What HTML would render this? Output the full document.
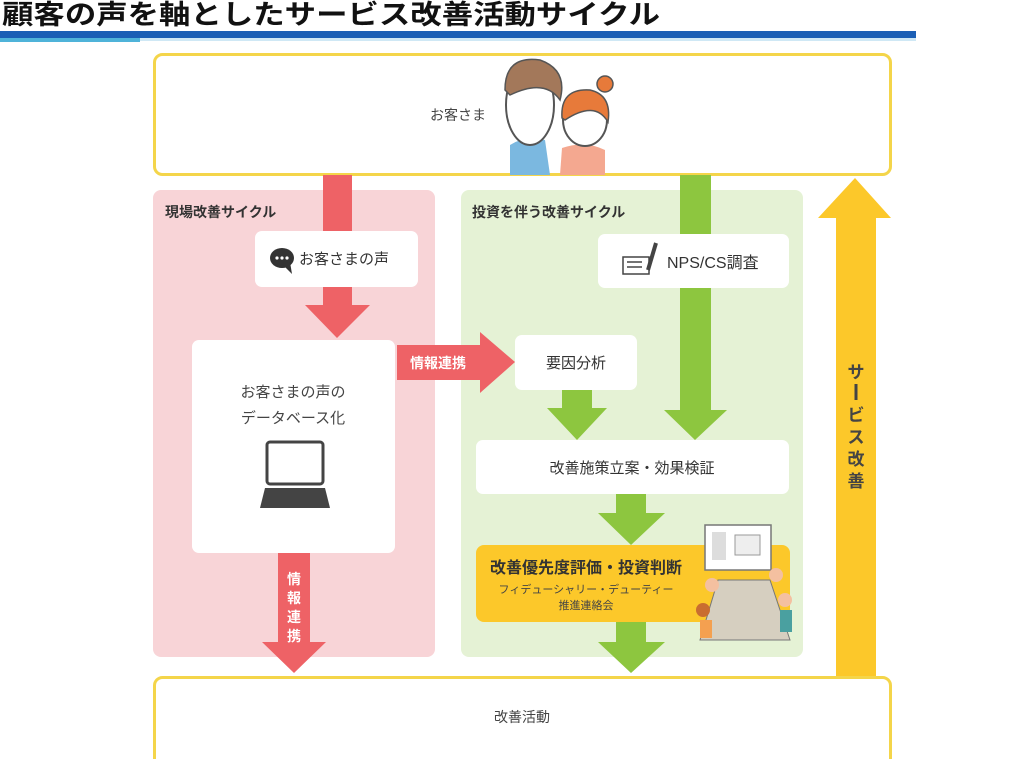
<!DOCTYPE html>
<html><head><meta charset="utf-8"><style>
html,body{margin:0;padding:0;background:#fff;}
svg{display:block;font-family:"Liberation Sans","Noto Sans CJK JP",sans-serif;}
</style></head><body>
<svg width="1024" height="759" viewBox="0 0 1024 759" xmlns="http://www.w3.org/2000/svg">
<text x="2" y="24" font-size="27" font-weight="bold" fill="#111" textLength="658" lengthAdjust="spacingAndGlyphs">顧客の声を軸としたサービス改善活動サイクル</text>
<rect x="0" y="31" width="916" height="7" fill="#1b5fb5"/>
<rect x="0" y="38" width="140" height="4" fill="#4fb3d9"/>
<rect x="140" y="38" width="776" height="3" fill="#cfe8f5"/>

<!-- top box -->
<rect x="154.5" y="54.5" width="736" height="120" rx="8" fill="#fff" stroke="#f4d54a" stroke-width="3"/>
<text x="458" y="120" font-size="14" fill="#444" text-anchor="middle">お客さま</text>
<!-- people -->
<g>
<path d="M510 175 L510 145 Q525 135 545 140 L550 175 Z" fill="#7bb8e0"/>
<path d="M560 175 L562 148 Q585 140 605 150 L605 175 Z" fill="#f4a890"/>
<ellipse cx="530" cy="105" rx="24" ry="40" fill="#fff" stroke="#555" stroke-width="2"/>
<path d="M505 90 Q505 55 540 60 Q568 70 560 100 Q545 78 510 95 Z" fill="#a3785a" stroke="#555" stroke-width="1.5"/>
<ellipse cx="585" cy="120" rx="22" ry="26" fill="#fff" stroke="#555" stroke-width="2"/>
<path d="M562 118 Q560 88 590 90 Q612 95 608 122 Q595 100 565 120 Z" fill="#e77a3a" stroke="#555" stroke-width="1.5"/>
<circle cx="605" cy="84" r="8" fill="#e77a3a" stroke="#555" stroke-width="1.5"/>
</g>

<!-- panels -->
<rect x="153" y="190" width="282" height="467" rx="8" fill="#f8d4d7"/>
<rect x="461" y="190" width="342" height="467" rx="8" fill="#e5f2d5"/>
<text x="165" y="217" font-size="14" font-weight="bold" fill="#333">現場改善サイクル</text>
<text x="472" y="217" font-size="14" font-weight="bold" fill="#333">投資を伴う改善サイクル</text>

<!-- red arrows -->
<rect x="323" y="175" width="29" height="135" fill="#ee6266"/>
<polygon points="305,305 370,305 337,338" fill="#ee6266"/>
<rect x="278" y="553" width="32" height="92" fill="#ee6266"/>
<polygon points="262,642 326,642 294,673" fill="#ee6266"/>
<text font-size="14" font-weight="bold" fill="#fff" text-anchor="middle"><tspan x="294" y="584">情</tspan><tspan x="294" y="603">報</tspan><tspan x="294" y="622">連</tspan><tspan x="294" y="641">携</tspan></text>
<rect x="397" y="345" width="85" height="35" fill="#ee6266"/>
<polygon points="480,332 480,393 515,362" fill="#ee6266"/>
<text x="438" y="368" font-size="14" font-weight="bold" fill="#fff" text-anchor="middle">情報連携</text>

<!-- green arrows -->
<rect x="680" y="175" width="31" height="240" fill="#8dc63f"/>
<polygon points="664,410 727,410 695,440" fill="#8dc63f"/>
<rect x="562" y="385" width="30" height="25" fill="#8dc63f"/>
<polygon points="547,408 607,408 577,440" fill="#8dc63f"/>
<rect x="616" y="490" width="30" height="25" fill="#8dc63f"/>
<polygon points="598,513 665,513 631,545" fill="#8dc63f"/>
<rect x="616" y="620" width="30" height="24" fill="#8dc63f"/>
<polygon points="598,642 665,642 631,673" fill="#8dc63f"/>

<!-- white boxes -->
<rect x="255" y="231" width="163" height="56" rx="7" fill="#fff"/>
<ellipse cx="282" cy="258" rx="12" ry="10" fill="#333"/>
<polygon points="282,264 292,274 290,262" fill="#333"/>
<circle cx="277" cy="258" r="1.6" fill="#fff"/><circle cx="282" cy="258" r="1.6" fill="#fff"/><circle cx="287" cy="258" r="1.6" fill="#fff"/>
<text x="299" y="264" font-size="15" fill="#333">お客さまの声</text>

<rect x="192" y="340" width="203" height="213" rx="7" fill="#fff"/>
<text x="293" y="397" font-size="15" fill="#444" text-anchor="middle">お客さまの声の</text>
<text x="293" y="423" font-size="15" fill="#444" text-anchor="middle">データベース化</text>
<rect x="267" y="442" width="56" height="42" rx="3" fill="#fff" stroke="#444" stroke-width="3"/>
<polygon points="265,488 325,488 330,508 260,508" fill="#444"/>

<rect x="515" y="335" width="122" height="55" rx="7" fill="#fff"/>
<text x="576" y="368" font-size="15" fill="#333" text-anchor="middle">要因分析</text>

<rect x="598" y="234" width="191" height="54" rx="7" fill="#fff"/>
<rect x="623" y="257" width="26" height="17" fill="#fff" stroke="#444" stroke-width="1.5"/>
<line x1="627" y1="262" x2="642" y2="262" stroke="#444" stroke-width="1.5"/>
<line x1="627" y1="267" x2="642" y2="267" stroke="#444" stroke-width="1.5"/>
<line x1="648" y1="270" x2="656" y2="243" stroke="#444" stroke-width="4"/>
<text x="667" y="268" font-size="16" fill="#333">NPS/CS調査</text>

<rect x="476" y="440" width="313" height="54" rx="7" fill="#fff"/>
<text x="632" y="473" font-size="15" fill="#333" text-anchor="middle">改善施策立案・効果検証</text>

<rect x="476" y="545" width="314" height="77" rx="8" fill="#fcc82a"/>
<text x="586" y="573" font-size="16" font-weight="bold" fill="#333" text-anchor="middle">改善優先度評価・投資判断</text>
<text x="586" y="593" font-size="11" fill="#444" text-anchor="middle">フィデューシャリー・デューティー</text>
<text x="586" y="609" font-size="11" fill="#444" text-anchor="middle">推進連絡会</text>
<!-- meeting illustration -->
<rect x="705" y="525" width="66" height="45" fill="#fff" stroke="#777" stroke-width="1.5"/>
<rect x="712" y="532" width="14" height="28" fill="#ddd"/>
<rect x="735" y="535" width="25" height="20" fill="#eee" stroke="#999"/>
<polygon points="718,580 770,580 790,640 700,640" fill="#d6cfc0" stroke="#777"/>
<circle cx="712" cy="585" r="7" fill="#f4c0a0"/><circle cx="776" cy="575" r="7" fill="#f4c0a0"/>
<circle cx="703" cy="610" r="7" fill="#c96d30"/><circle cx="785" cy="600" r="7" fill="#f4c0a0"/>
<rect x="700" y="620" width="12" height="18" fill="#f4a050"/><rect x="780" y="610" width="12" height="22" fill="#4aa0a0"/>

<!-- yellow up arrow -->
<rect x="836" y="215" width="40" height="462" fill="#fcc82a"/>
<polygon points="818,218 891,218 855,178" fill="#fcc82a"/>
<text font-size="17" font-weight="bold" fill="#444" text-anchor="middle"><tspan x="856" y="378">サ</tspan><tspan x="856" y="421">ビ</tspan><tspan x="856" y="443">ス</tspan><tspan x="856" y="465">改</tspan><tspan x="856" y="487">善</tspan></text>
<rect x="854.5" y="384" width="3" height="16" fill="#444"/>

<!-- bottom box -->
<rect x="154.5" y="677.5" width="736" height="90" rx="8" fill="#fff" stroke="#f4d54a" stroke-width="3"/>
<text x="522" y="722" font-size="14" fill="#444" text-anchor="middle">改善活動</text>
</svg>
</body></html>
